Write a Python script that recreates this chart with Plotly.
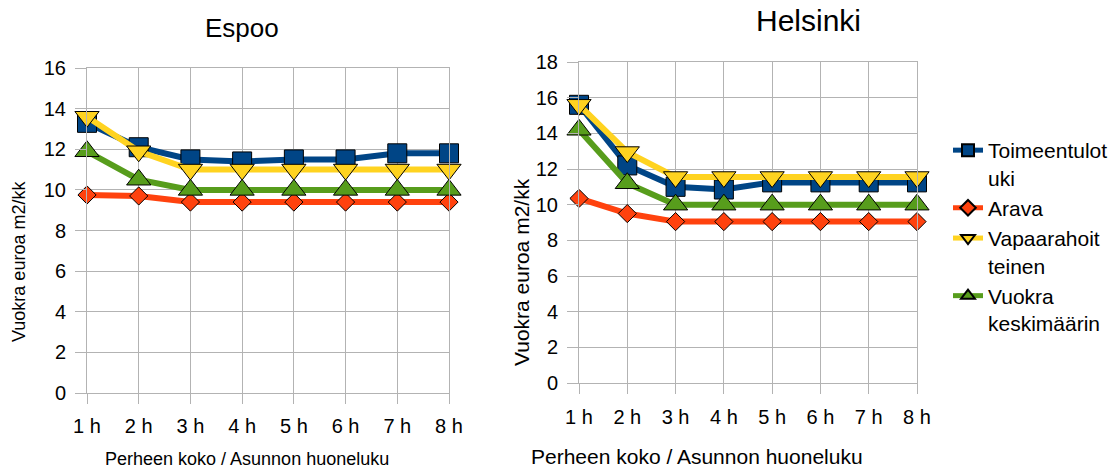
import plotly.graph_objects as go

categories = ["1 h", "2 h", "3 h", "4 h", "5 h", "6 h", "7 h", "8 h"]
series_names = ["Toimeentulot<br>uki", "Arava", "Vapaarahoit<br>teinen", "Vuokra<br>keskimäärin"]

espoo_toimeentulotuki = [13.3, 12.1, 11.5, 11.4, 11.5, 11.5, 11.8, 11.8]
espoo_arava = [9.75, 9.7, 9.4, 9.4, 9.4, 9.4, 9.4, 9.4]
espoo_vapaarahoitteinen = [13.6, 11.9, 11.0, 11.0, 11.0, 11.0, 11.0, 11.0]
espoo_vuokra_keskimaarin = [11.9, 10.5, 10.0, 10.0, 10.0, 10.0, 10.0, 10.0]

helsinki_toimeentulotuki = [15.6, 12.2, 11.0, 10.85, 11.25, 11.25, 11.25, 11.25]
helsinki_arava = [10.35, 9.5, 9.05, 9.05, 9.05, 9.05, 9.05, 9.05]
helsinki_vapaarahoitteinen = [15.6, 12.95, 11.55, 11.55, 11.55, 11.55, 11.55, 11.55]
helsinki_vuokra_keskimaarin = [14.2, 11.2, 10.0, 10.0, 10.0, 10.0, 10.0, 10.0]

espoo_yticks = [0, 2, 4, 6, 8, 10, 12, 14, 16]
helsinki_yticks = [0, 2, 4, 6, 8, 10, 12, 14, 16, 18]

colors = ["#004586", "#ff420e", "#ffd320", "#579d1c"]
symbols = ["square", "diamond", "triangle-down", "triangle-up"]
sizes = [19, 14, 21, 21]

W, H = 1114, 468
FONT = "Liberation Sans, Arial, sans-serif"
GRID = "#b3b3b3"

xpos = list(range(1, len(categories) + 1))

fig = go.Figure()

espoo_data = [espoo_toimeentulotuki, espoo_arava, espoo_vapaarahoitteinen, espoo_vuokra_keskimaarin]
helsinki_data = [helsinki_toimeentulotuki, helsinki_arava, helsinki_vapaarahoitteinen, helsinki_vuokra_keskimaarin]

for i, vals in enumerate(espoo_data):
    fig.add_trace(go.Scatter(
        x=xpos, y=vals, mode="lines+markers", name=series_names[i],
        line=dict(color=colors[i], width=6),
        marker=dict(symbol=symbols[i], size=sizes[i], color=colors[i],
                    line=dict(color="#000000", width=1)),
        xaxis="x", yaxis="y", showlegend=False, cliponaxis=False,
    ))
for i, vals in enumerate(helsinki_data):
    fig.add_trace(go.Scatter(
        x=xpos, y=vals, mode="lines+markers", name=series_names[i],
        line=dict(color=colors[i], width=6),
        marker=dict(symbol=symbols[i], size=sizes[i], color=colors[i],
                    line=dict(color="#000000", width=1)),
        xaxis="x2", yaxis="y2", showlegend=True, cliponaxis=False,
    ))

def px_x(p):
    return p / W

def px_y(p):
    return 1 - p / H

def xaxis_cfg(domain, fsize, standoff):
    return dict(
        domain=domain, range=[1, 8], tickmode="array", tickvals=xpos, ticktext=categories,
        showgrid=True, gridcolor=GRID, gridwidth=1, zeroline=False,
        showline=True, linecolor=GRID, linewidth=1, mirror=True,
        ticks="outside", ticklen=10, tickcolor=GRID, tickwidth=1,
        tickfont=dict(family=FONT, size=fsize, color="#000000"),
        ticklabelstandoff=standoff,
        fixedrange=True, automargin=False,
    )

def yaxis_cfg(domain, rng, tickvals, fsize, anchor, standoff):
    return dict(
        domain=domain, range=rng, tickmode="array", tickvals=tickvals,
        showgrid=True, gridcolor=GRID, gridwidth=1, zeroline=False,
        showline=True, linecolor=GRID, linewidth=1, mirror=True,
        ticks="outside", ticklen=11, tickcolor=GRID, tickwidth=1,
        tickfont=dict(family=FONT, size=fsize, color="#000000"),
        ticklabelstandoff=standoff,
        anchor=anchor, fixedrange=True, automargin=False,
    )

fig.update_layout(
    width=W, height=H,
    margin=dict(l=0, r=0, t=0, b=0, autoexpand=False),
    paper_bgcolor="white", plot_bgcolor="white",
    font=dict(family=FONT, color="#000000"),
    xaxis=xaxis_cfg([px_x(87), px_x(449)], 20, 5) | dict(anchor="y"),
    yaxis=yaxis_cfg([px_y(393), px_y(68)], [0, 16], espoo_yticks, 20, "x", 5),
    xaxis2=xaxis_cfg([px_x(579), px_x(917)], 20, 6) | dict(anchor="y2"),
    yaxis2=yaxis_cfg([px_y(383), px_y(62)], [0, 18], helsinki_yticks, 20, "x2", 5),
    legend=dict(
        x=px_x(948), y=px_y(130), xanchor="left", yanchor="top",
        font=dict(family=FONT, size=21, color="#000000"),
        bgcolor="rgba(0,0,0,0)", valign="top", itemwidth=30,
        itemsizing="constant",
    ),
    showlegend=True,
)

annotations = [
    dict(text="Espoo", x=px_x(242), y=px_y(28), font=dict(size=26)),
    dict(text="Helsinki", x=px_x(808), y=px_y(21), font=dict(size=30)),
    dict(text="Perheen koko / Asunnon huoneluku", x=px_x(247), y=px_y(459), font=dict(size=18)),
    dict(text="Perheen koko / Asunnon huoneluku", x=px_x(697), y=px_y(456), font=dict(size=21)),
    dict(text="Vuokra euroa m2/kk", x=px_x(19), y=px_y(262), font=dict(size=18), textangle=-90),
    dict(text="Vuokra euroa m2/kk", x=px_x(521), y=px_y(272), font=dict(size=21), textangle=-90),
]
for a in annotations:
    a.update(xref="paper", yref="paper", showarrow=False, xanchor="center", yanchor="middle")
    a["font"].update(family=FONT, color="#000000")
fig.update_layout(annotations=annotations)

fig.write_html("out.html")
